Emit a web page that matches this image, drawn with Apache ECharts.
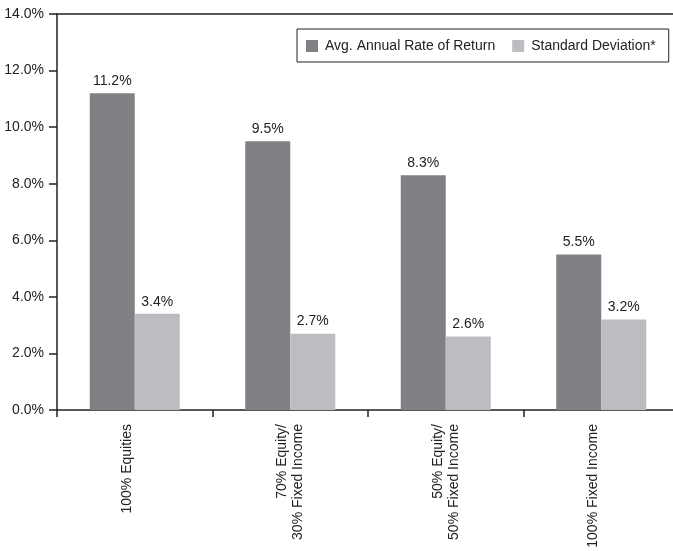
<!DOCTYPE html>
<html>
<head>
<meta charset="utf-8">
<script src="https://cdn.jsdelivr.net/npm/echarts@6/dist/echarts.min.js"></script>
<style>
html,body{margin:0;padding:0;background:#fff;overflow:hidden;}
#c{width:680px;height:551px;}
</style>
</head>
<body>
<div id="c"></div>
<script>
const categories = ['100% Equities', '70% Equity/\n30% Fixed Income', '50% Equity/\n50% Fixed Income', '100% Fixed Income'];
const seriesNames = ['Avg. Annual Rate of Return', 'Standard Deviation*'];
const avgReturn = [11.2, 9.5, 8.3, 5.5];
const stdDev = [3.4, 2.7, 2.6, 3.2];
const yTicks = [0, 2, 4, 6, 8, 10, 12, 14];

const FONT = '"Liberation Sans", Arial, sans-serif';
const chart = echarts.init(document.getElementById('c'), null, {renderer: 'canvas'});
const labelStyle = {show: true, position: 'top', distance: 5, color: '#222', fontSize: 14, fontFamily: FONT, formatter: p => p.value.toFixed(1) + '%'};
chart.setOption({
  animation: false,
  backgroundColor: '#fff',
  textStyle: {fontFamily: FONT},
  legend: {
    left: 297, top: 29,
    padding: [10, 13, 9, 9],
    borderColor: '#222', borderWidth: 1,
    itemWidth: 12, itemHeight: 12, itemGap: 17,
    icon: 'rect',
    textStyle: {fontSize: 14, color: '#222', fontFamily: FONT, padding: [0, 0, 0, 2]},
    data: seriesNames
  },
  grid: {left: 57, top: 14, width: 622, height: 396, containLabel: false},
  xAxis: [{
    type: 'category',
    data: categories,
    axisLine: {lineStyle: {color: '#222', width: 1.5}},
    axisTick: {show: true, length: 7, lineStyle: {color: '#222', width: 1.5}},
    axisLabel: {
      rotate: 90, margin: 14, fontSize: 14, color: '#222', fontFamily: FONT, lineHeight: 16,
      interval: 0,
      formatter: v => v.indexOf('\n') >= 0 ? v : v + '\n '
    }
  }, {
    type: 'category',
    position: 'top',
    data: categories,
    axisLine: {show: true, lineStyle: {color: '#222', width: 1.5}},
    axisTick: {show: false},
    axisLabel: {show: false}
  }],
  yAxis: {
    type: 'value',
    min: yTicks[0], max: yTicks[yTicks.length - 1], interval: 2,
    axisLine: {show: true, lineStyle: {color: '#222', width: 1.5}},
    axisTick: {show: true, length: 8, lineStyle: {color: '#222', width: 1.5}},
    splitLine: {show: false},
    axisLabel: {margin: 13, fontSize: 14, color: '#222', fontFamily: FONT, formatter: v => v.toFixed(1) + '%'}
  },
  series: [{
    name: seriesNames[0], type: 'bar', data: avgReturn,
    barWidth: 45, barGap: '0%',
    itemStyle: {color: '#808185'},
    label: labelStyle
  }, {
    name: seriesNames[1], type: 'bar', data: stdDev,
    barWidth: 45, barGap: '0%',
    itemStyle: {color: '#bcbdc1'},
    label: labelStyle
  }]
});
</script>
</body>
</html>
